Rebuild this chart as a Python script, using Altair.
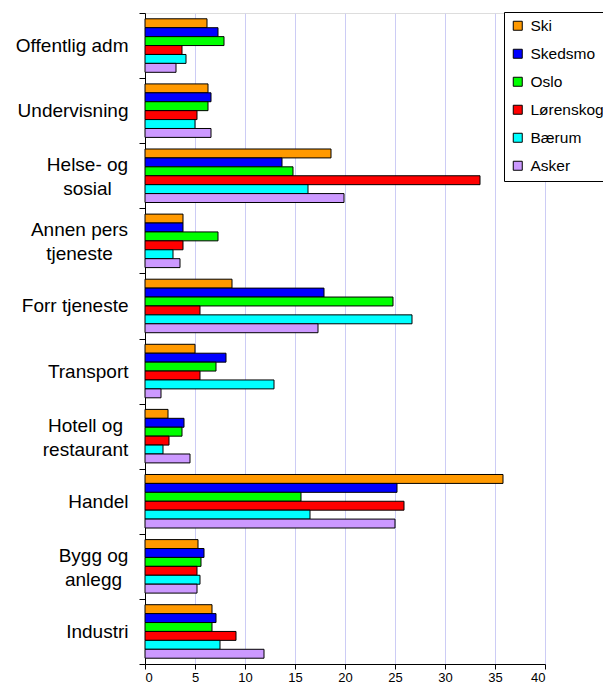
import altair as alt
import pandas as pd

categories = [
    "Offentlig adm",
    "Undervisning",
    "Helse- og|sosial",
    "Annen pers|tjeneste",
    "Forr tjeneste",
    "Transport",
    "Hotell og|restaurant",
    "Handel",
    "Bygg og|anlegg",
    "Industri",
]
series = ["Ski", "Skedsmo", "Oslo", "Lørenskog", "Bærum", "Asker"]
colors = ["#FF9900", "#0000FF", "#00FF00", "#FF0000", "#00FFFF", "#CC99FF"]

ski = [6.2, 6.3, 18.6, 3.8, 8.7, 5.0, 2.3, 35.8, 5.3, 6.7]
skedsmo = [7.3, 6.6, 13.7, 3.8, 17.9, 8.1, 3.9, 25.2, 5.9, 7.1]
oslo = [7.9, 6.3, 14.8, 7.3, 24.8, 7.1, 3.7, 15.6, 5.6, 6.7]
lorenskog = [3.7, 5.2, 33.5, 3.8, 5.5, 5.5, 2.4, 25.9, 5.2, 9.1]
baerum = [4.1, 5.0, 16.3, 2.8, 26.7, 12.9, 1.8, 16.5, 5.5, 7.5]
asker = [3.1, 6.6, 19.9, 3.5, 17.3, 1.6, 4.5, 25.0, 5.2, 11.9]

x_ticks = [0, 5, 10, 15, 20, 25, 30, 35, 40]

rows = []
for s, vals in zip(series, [ski, skedsmo, oslo, lorenskog, baerum, asker]):
    for c, v in zip(categories, vals):
        rows.append({"category": c, "series": s, "value": v})
df = pd.DataFrame(rows)

FONT = "Liberation Sans"

# two-line labels are centred line by line (as in the original), block right-aligned
pad_multi = {
    "Helse- og|sosial": 52,
    "Annen pers|tjeneste": 60,
    "Hotell og|restaurant": 54,
    "Bygg og|anlegg": 46,
}
pad_conditions = [
    {"test": f"datum.label == '{k}'", "value": v} for k, v in pad_multi.items()
]
MULTI = "indexof(datum.label, '|') >= 0"

chart = (
    alt.Chart(df)
    .mark_bar(stroke="black", strokeWidth=1)
    .encode(
        x=alt.X(
            "value:Q",
            scale=alt.Scale(domain=[0, 40], nice=False),
            axis=alt.Axis(
                values=x_ticks,
                title=None,
                grid=True,
                gridColor="#CCCCF5",
                domainColor="black",
                tickColor="black",
                tickSize=5,
                labelFontSize=13,
                labelPadding=2,
                labelColor="black",
                labelFont=FONT,
            ),
        ),
        y=alt.Y(
            "category:N",
            sort=categories,
            scale=alt.Scale(paddingInner=0, paddingOuter=0),
            axis=alt.Axis(
                title=None,
                tickBand="extent",
                labelExpr="split(datum.label, '|')",
                labelFontSize=19,
                labelLineHeight=24,
                labelPadding={"condition": pad_conditions, "value": 11},
                labelAlign={
                    "condition": {"test": MULTI, "value": "center"},
                    "value": "right",
                },
                labelOffset={
                    "condition": {"test": MULTI, "value": -11},
                    "value": 0,
                },
                tickSize=6,
                tickColor="black",
                domainColor="black",
                labelColor="black",
                labelFont=FONT,
                labelLimit=250,
            ),
        ),
        yOffset=alt.YOffset(
            "series:N",
            sort=series,
            scale=alt.Scale(paddingInner=0, paddingOuter=0.65),
        ),
        color=alt.Color(
            "series:N",
            sort=series,
            title=None,
            scale=alt.Scale(domain=series, range=colors),
            legend=alt.Legend(
                orient="none",
                legendX=359,
                legendY=-1,
                strokeColor="black",
                fillColor="white",
                padding=6,
                labelFontSize=15.5,
                labelFont=FONT,
                labelColor="black",
                symbolType="square",
                symbolSize=81,
                symbolStrokeColor="black",
                symbolStrokeWidth=1,
                symbolOpacity=1,
                labelOffset=5,
                rowPadding=11,
            ),
        ),
    )
    .properties(
        width=400,
        height=651,
        autosize=alt.AutoSizeParams(type="none"),
        padding={"left": 137, "top": 5, "right": 58, "bottom": 20},
    )
    .configure_view(stroke="#808080")
    .configure(background="white")
)

chart.save("out.html", embed_options={"renderer": "svg", "actions": False})
